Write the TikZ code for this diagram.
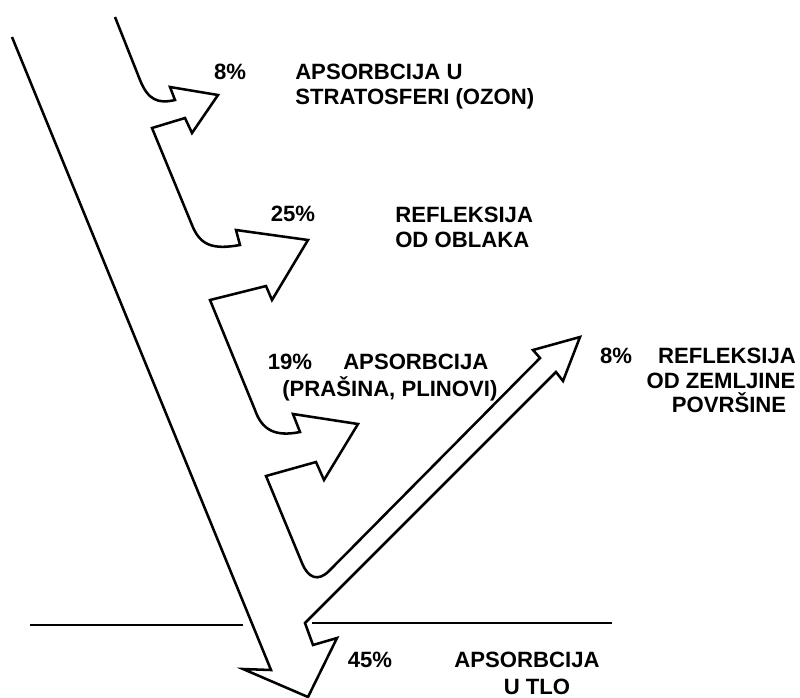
\documentclass[tikz,border=0pt]{standalone}
\usepackage{fontspec}
\setmainfont{Liberation Sans}
\begin{document}
\begin{tikzpicture}[x=0.75pt,y=-0.75pt,
  outline/.style={line width=1.9pt,line join=miter,black},
  ground/.style={line width=2pt,black},
  lbl/.style={font=\fontsize{16.6}{19}\selectfont\bfseries,inner sep=0pt}]
\useasboundingbox (0,0) rectangle (800,697);
% band of radiation, one closed outline
\draw[outline] (115,17) -- (140,80)
  .. controls (148,100) and (158,104) .. (175,100)
  -- (170,87) -- (218,95) -- (192,133) -- (185,118) -- (152,128)
  -- (192,225) .. controls (200,245) and (212,250) .. (240,245)
  -- (236,230) -- (308,240) -- (272,300) -- (266,286) -- (210,300)
  -- (255,410) .. controls (262,430) and (275,437) .. (300,432)
  -- (293,414) -- (358,424) -- (324,480) -- (316,462) -- (266,476)
  -- (302,563) .. controls (308,578) and (318,582) .. (329,571)
  -- (540,358) -- (533,350) -- (580,337) -- (563,381) -- (556,372)
  -- (305,623) -- (313,645) -- (337,638) -- (308,697) -- (243,669)
  -- (271,670) -- (12,37);
% ground
\draw[ground] (30,625) -- (243,625);
\draw[ground] (312,623) -- (612,623);
% labels
\node[lbl,anchor=base] (p1) at (230,79) {8\%};
\node[lbl,anchor=base west] (t1a) at (295,79) {APSORBCIJA U};
\node[lbl,anchor=base west] (t1b) at (295,104) {STRATOSFERI (OZON)};
\node[lbl,anchor=base] (p2) at (293,221) {25\%};
\node[lbl,anchor=base west] (t2a) at (395,222) {REFLEKSIJA};
\node[lbl,anchor=base west] (t2b) at (395,247) {OD OBLAKA};
\node[lbl,anchor=base] (p3) at (290,369) {19\%};
\node[lbl,anchor=base west] (t3a) at (343,369) {APSORBCIJA};
\node[lbl,anchor=base west] (t3b) at (282,396) {(PRAŠINA, PLINOVI)};
\node[lbl,anchor=base] (p4) at (616,363) {8\%};
\node[lbl,anchor=base] (t4a) at (727,363) {REFLEKSIJA};
\node[lbl,anchor=base] (t4b) at (721,388) {OD ZEMLJINE};
\node[lbl,anchor=base] (t4c) at (729,412) {POVRŠINE};
\node[lbl,anchor=base] (p5) at (370,667) {45\%};
\node[lbl,anchor=base] (t5a) at (527,667) {APSORBCIJA};
\node[lbl,anchor=base] (t5b) at (537,694) {U TLO};
\end{tikzpicture}
\end{document}
